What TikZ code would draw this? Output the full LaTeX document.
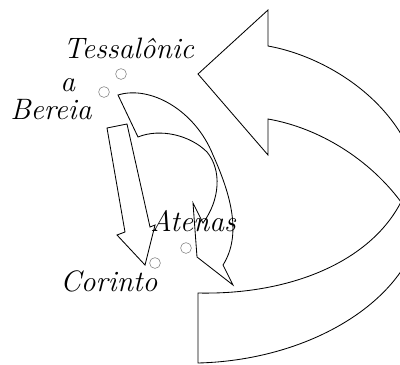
\documentclass[tikz,border=0pt]{standalone}
\usepackage{tikz}
\tikzset{
  town/.style={circle, draw=gray, line width=0.4pt, inner sep=0pt, minimum size=0.27cm},
  city/.style={anchor=base west, inner sep=0pt},
  route/.style={draw=black, line width=0.6pt, line join=miter}
}

\begin{document}
\begin{tikzpicture}[x=0.025cm, y=-0.025cm, font=\fontsize{21}{25}\selectfont\itshape]
      \useasboundingbox (0,0) rectangle (400,364);
      \clip (0,0) rectangle (400,364);
      % big return arrow
      \draw[route] (198,293) -- (198,363)
        .. controls (320,360) and (424,290) .. (422,205)
        .. controls (420,115) and (335,58) .. (268,46)
        -- (268,10) -- (198,74) -- (268,155) -- (268,119)
        .. controls (320,128) and (370,160) .. (401,202)
        .. controls (370,262) and (290,295) .. (198,293) -- cycle;
      % curved arrow to Atenas
      \draw[route] (138,137) -- (118,95)
        .. controls (150,85) and (195,110) .. (213,155)
        .. controls (231,195) and (242,235) .. (223,265)
        -- (233,285) -- (197,257) -- (193,203) -- (203,223)
        .. controls (220,200) and (222,170) .. (207,152)
        .. controls (190,135) and (160,128) .. (138,137) -- cycle;
      % straight arrow to Corinto
      \draw[route] (107,128) -- (127,124) -- (150,227) -- (155,225) -- (145,265) -- (117,235) -- (125,232) -- cycle;
      % towns
      \node[town] (tesdot) at (121,74) {};
      \node[town] (berdot) at (104,92) {};
      \node[town] (cordot) at (155,263) {};
      \node[town] (atedot) at (186,248) {};
      \node[city] (tes) at (63,58) {Tessalônic};
      \node[city] (tesa) at (60,91) {a};
      \node[city] (ber) at (10,119) {Bereia};
      \node[city] (ate) at (150,231) {Atenas};
      \node[city] (cor) at (60,291) {Corinto};
    \end{tikzpicture}
\end{document}
